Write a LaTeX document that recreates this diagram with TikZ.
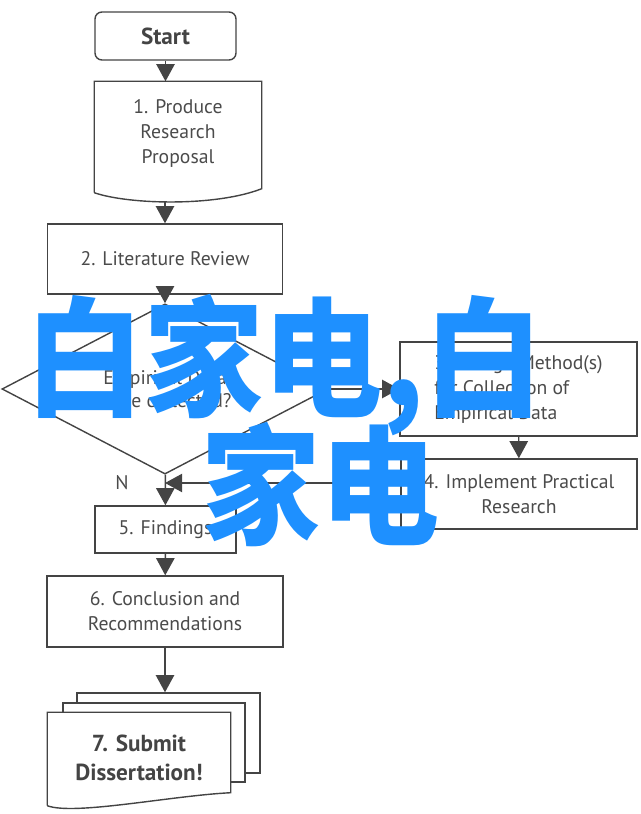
\documentclass[tikz,border=0pt]{standalone}
\usepackage{fontspec}
\setmainfont{PT Sans}
\newfontfamily\cjk{Noto Sans CJK SC}
\usetikzlibrary{arrows.meta, shapes.geometric, positioning}
\definecolor{inkgray}{RGB}{68,68,68}
\definecolor{textgray}{RGB}{75,75,75}
\definecolor{wmblue}{RGB}{30,144,255}

\begin{document}
\begin{tikzpicture}[
          x=0.025cm, y=-0.025cm,
          box/.style={
              draw=inkgray,
              fill=white,
              line width=1pt,
              text=textgray,
              font=\fontsize{14}{17.8}\selectfont,
              align=center,
              inner sep=0pt
            },
          docbox/.style={
              box,
              draw=none,
              fill=none
            },
          docline/.style={draw=inkgray, line width=1pt},
          decision/.style={
              box,
              shape=diamond,
              minimum width=8.15cm,
              minimum height=3.35cm,
              font=\fontsize{14}{16.4}\selectfont
            },
          arr/.style={-{Triangle[length=0.43cm, width=0.46cm]}, inkgray, line width=1pt},
          wmark/.style={text=wmblue, inner sep=0pt, anchor=west, xscale=0.92, transform shape,
              font=\cjk\bfseries\fontsize{92}{92}\selectfont}
        ]
        \useasboundingbox (0,0) rectangle (640,814);
        % flow boxes
        \node[box, rounded corners=5pt, minimum width=3.525cm, minimum height=1.2cm,
              font=\fontsize{16.5}{20}\selectfont\bfseries, text=inkgray] (start) at (165.5,36) {Start};
        \node[docbox, minimum width=4.15cm, minimum height=2.55cm] (prop) at (178,133) {1. Produce\\Research\\Proposal};
        \draw[docline] ([shift={(0,8)}]prop.south west) -- (prop.north west) -- (prop.north east)
              -- ([shift={(0,4)}]prop.south east) .. controls +(-46,18) and +(35,12) .. ([shift={(0,8)}]prop.south west);
        \coordinate (propbot) at (165,201);
        \node[box, minimum width=5.875cm, minimum height=1.75cm] (lit) at (165,259) {2. Literature Review};
        \node[decision] (dec) at (165,389) {Empirical Data\\to be collected?};
        \node[box, align=left, minimum width=5.925cm, minimum height=2.35cm] (design) at (518.5,389)
              {3. Design Method(s)\\for Collection of\\Empirical Data};
        \node[box, minimum width=5.9cm, minimum height=1.75cm] (impl) at (519,494) {4. Implement Practical\\Research};
        \node[box, minimum width=3.525cm, minimum height=1.175cm] (find) at (165.5,529.5) {5. Findings};
        \node[box, minimum width=5.9cm, minimum height=1.775cm] (concl) at (165,611.5) {6. Conclusion and\\Recommendations};
        \node[text=textgray, font=\fontsize{14}{16}\selectfont] (nlabel) at (122,483) {N};

        % stacked sheets
        \node[box, minimum width=4.575cm, minimum height=2cm] (sheetb) at (168.5,733) {};
        \node[box, minimum width=4.55cm, minimum height=1.975cm] (sheetm) at (154,742.5) {};
        \node[docbox, minimum width=4.55cm, minimum height=2.25cm] (submit) at (139,758) {};
        \draw[docline, fill=white] ([shift={(0,2)}]submit.south west) -- (submit.north west) -- (submit.north east)
              -- ([shift={(0,-11)}]submit.south east) .. controls +(-60,3) and +(27,10) .. ([shift={(0,2)}]submit.south west);
        \node[docbox, font=\fontsize{16.5}{21}\selectfont\bfseries, text=inkgray] (submittxt) at (submit) {7. Submit\\Dissertation!};

        % connectors
        \coordinate (impljoin) at ([shift={(0,-11)}]impl.west);
        \draw[arr] (start.south) -- (start.south |- prop.north);
        \draw[arr] (propbot) -- (lit);
        \draw[arr] (lit) -- (dec);
        \draw[arr] (dec) -- (design);
        \draw[arr] (design) -- (impl);
        \draw[arr] (impljoin) -- (impljoin -| dec.south);
        \draw[arr] (dec) -- (find);
        \draw[arr] (find) -- (concl);
        \draw[arr] (concl) -- (concl |- sheetb.north);

        % overlay text
        \node[wmark] (wmone) at (25,365) {白家电,白};
        \node[wmark] (wmtwo) at (201,485) {家电};
      \end{tikzpicture}
\end{document}
